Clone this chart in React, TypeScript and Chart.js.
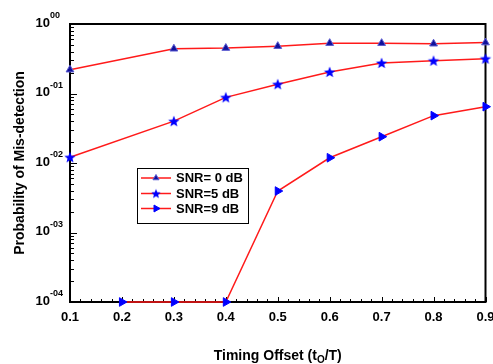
import React, { useEffect, useRef } from "react";
import { Chart, registerables } from "chart.js";
import { drawPoint } from "chart.js/helpers";

Chart.register(...registerables);

const snr0X = [0.1, 0.3, 0.4, 0.5, 0.6, 0.7, 0.8, 0.9];
const snr0Y = [0.22, 0.44, 0.45, 0.48, 0.53, 0.53, 0.52, 0.54];
const snr5X = [0.1, 0.3, 0.4, 0.5, 0.6, 0.7, 0.8, 0.9];
const snr5Y = [0.0121, 0.04, 0.088, 0.136, 0.204, 0.275, 0.296, 0.317];
const snr9X = [0.2, 0.3, 0.4, 0.5, 0.6, 0.7, 0.8, 0.9];
const snr9Y = [0.0001, 0.0001, 0.0001, 0.00395, 0.0119, 0.0239, 0.048, 0.0646];
const seriesLabels = ["SNR= 0 dB", "SNR=5 dB", "SNR=9 dB"];
const yTickValues = [1, 0.1, 0.01, 0.001, 0.0001];
const yTickExps = ["00", "-01", "-02", "-03", "-04"];
const xTitleParts = ["Timing Offset (t", "O", "/T)"];
const yTitle = "Probability of Mis-detection";

const FONT = '"Liberation Sans", Arial, Helvetica, sans-serif';

function makeStar(color: string, outer: number, inner: number) {
  const size = Math.ceil(outer * 2 + 2);
  const c = document.createElement("canvas");
  c.width = size;
  c.height = size;
  const ctx = c.getContext("2d")!;
  ctx.beginPath();
  for (let i = 0; i < 10; i++) {
    const r = i % 2 === 0 ? outer : inner;
    const a = -Math.PI / 2 + (i * Math.PI) / 5;
    ctx.lineTo(size / 2 + r * Math.cos(a), size / 2 + 0.5 + r * Math.sin(a));
  }
  ctx.closePath();
  ctx.fillStyle = color;
  ctx.fill();
  return c;
}

const framePlugin = {
  id: "framePlugin",
  beforeDatasetsDraw(chart: any) {
    const { ctx, chartArea: a, scales } = chart;
    const xs = scales.x;
    const ys = scales.y;
    ctx.save();
    ctx.strokeStyle = "#000";
    ctx.lineWidth = 1;
    const line = (x1: number, y1: number, x2: number, y2: number) => {
      ctx.beginPath();
      ctx.moveTo(x1, y1);
      ctx.lineTo(x2, y2);
      ctx.stroke();
    };
    for (let e = -4; e <= 0; e++) {
      for (let k = 1; k <= 9; k++) {
        const v = k * Math.pow(10, e);
        if (v > 1.0001) break;
        const py = Math.round(ys.getPixelForValue(v)) + 0.5;
        line(a.left, py, a.left + (k === 1 ? 7 : 4), py);
      }
    }
    for (let i = 0; i <= 40; i++) {
      const v = 0.1 + i * 0.02;
      const px = Math.round(xs.getPixelForValue(v)) + 0.5;
      line(px, a.bottom, px, a.bottom - (i % 5 === 0 ? 5 : 3));
    }
    ctx.lineWidth = 2;
    ctx.strokeRect(a.left, a.top, a.right - a.left, a.bottom - a.top);

    // y tick labels 10^xx
    ctx.fillStyle = "#000";
    yTickValues.forEach((v, i) => {
      const py = ys.getPixelForValue(v);
      ctx.font = `bold 13px ${FONT}`;
      ctx.textAlign = "right";
      ctx.textBaseline = "middle";
      ctx.fillText("10", 50, py - 1);
      ctx.font = `bold 9px ${FONT}`;
      ctx.textAlign = "left";
      ctx.fillText(yTickExps[i], 50, py - 8);
    });

    // x title with subscript
    const big = `bold 14px ${FONT}`;
    const small = `bold 10px ${FONT}`;
    ctx.font = big;
    const w1 = ctx.measureText(xTitleParts[0]).width;
    const w3 = ctx.measureText(xTitleParts[2]).width;
    ctx.font = small;
    const w2 = ctx.measureText(xTitleParts[1]).width;
    const total = w1 + w2 + w3;
    let tx = (a.left + a.right) / 2 - total / 2;
    const ty = 356;
    ctx.textAlign = "left";
    ctx.textBaseline = "middle";
    ctx.font = big;
    ctx.fillText(xTitleParts[0], tx, ty);
    tx += w1;
    ctx.font = small;
    ctx.fillText(xTitleParts[1], tx, ty + 4);
    tx += w2;
    ctx.font = big;
    ctx.fillText(xTitleParts[2], tx, ty);
    ctx.restore();
  },
  afterDatasetsDraw(chart: any) {
    const { ctx } = chart;
    ctx.save();
    const bx = 137, by = 168, bw = 111, bh = 55;
    ctx.fillStyle = "#fff";
    ctx.fillRect(bx, by, bw, bh);
    ctx.strokeStyle = "#000";
    ctx.lineWidth = 1;
    ctx.strokeRect(bx + 0.5, by + 0.5, bw, bh);
    const rows = [178, 193.5, 208.5];
    chart.data.datasets.forEach((ds: any, i: number) => {
      const ry = rows[i];
      ctx.strokeStyle = ds.borderColor;
      ctx.lineWidth = 1.5;
      ctx.beginPath();
      ctx.moveTo(141, ry);
      ctx.lineTo(171, ry);
      ctx.stroke();
      ctx.fillStyle = ds.pointBackgroundColor;
      ctx.strokeStyle = ds.pointBorderColor;
      ctx.lineWidth = 1;
      const style = ds.legendStyle;
      drawPoint(
        ctx,
        {
          pointStyle: style,
          rotation: ds.pointRotation || 0,
          radius: ds.legendRadius,
          borderWidth: 1,
        } as any,
        156,
        ry
      );
      ctx.fillStyle = "#000";
      ctx.font = `bold 13px ${FONT}`;
      ctx.textAlign = "left";
      ctx.textBaseline = "middle";
      ctx.fillText(ds.label, 176, ry + 0.5);
    });
    ctx.restore();
  },
};

export default function App() {
  const ref = useRef<HTMLCanvasElement | null>(null);
  useEffect(() => {
    if (!ref.current) return;
    const star = makeStar("#0000ff", 6, 2.6);
    const starSmall = makeStar("#0000ff", 5, 2.2);
    const chart = new Chart(ref.current, {
      type: "line",
      data: {
        datasets: [
          {
            label: seriesLabels[0],
            data: snr0X.map((x, i) => ({ x, y: snr0Y[i] })),
            borderColor: "#ff1a1a",
            borderWidth: 1.5,
            pointStyle: "triangle",
            pointRadius: 4.5,
            pointBackgroundColor: "#10109a",
            pointBorderColor: "#5a5ad0",
            pointBorderWidth: 1,
            clip: false,
            legendStyle: "triangle",
            legendRadius: 3.5,
          } as any,
          {
            label: seriesLabels[1],
            data: snr5X.map((x, i) => ({ x, y: snr5Y[i] })),
            borderColor: "#ff1a1a",
            borderWidth: 1.5,
            pointStyle: star,
            pointRadius: 6,
            pointBackgroundColor: "#0000ff",
            pointBorderColor: "#0000ff",
            clip: false,
            legendStyle: starSmall,
            legendRadius: 5,
          } as any,
          {
            label: seriesLabels[2],
            data: snr9X.map((x, i) => ({ x, y: snr9Y[i] })),
            borderColor: "#ff1a1a",
            borderWidth: 1.5,
            pointStyle: "triangle",
            pointRotation: 90,
            pointRadius: 5,
            pointBackgroundColor: "#0000ff",
            pointBorderColor: "#0000ff",
            pointBorderWidth: 1,
            clip: false,
            legendStyle: "triangle",
            legendRadius: 4,
          } as any,
        ],
      },
      options: {
        responsive: false,
        animation: false,
        layout: { padding: { top: 24, right: 7, left: 0, bottom: 0 } },
        plugins: { legend: { display: false }, tooltip: { enabled: false } },
        scales: {
          x: {
            type: "linear",
            min: 0.1,
            max: 0.9,
            grid: { display: false, drawTicks: false },
            border: { display: false },
            ticks: {
              stepSize: 0.1,
              padding: 8,
              color: "#000",
              font: { family: FONT, size: 13, weight: "bold" },
              callback: (v: any) => Number(v).toFixed(1),
              maxRotation: 0,
            },
            afterFit: (s: any) => {
              s.height = 62;
              s.paddingLeft = 0;
              s.paddingRight = 0;
            },
          },
          y: {
            type: "logarithmic",
            min: 0.0001,
            max: 1,
            grid: { display: false },
            border: { display: false },
            ticks: { display: false },
            title: {
              display: true,
              text: yTitle,
              color: "#000",
              font: { family: FONT, size: 14, weight: "bold" },
              padding: { top: 12, bottom: 0 },
            },
            afterFit: (s: any) => {
              s.width = 70;
              s.paddingTop = 0;
              s.paddingBottom = 0;
            },
          },
        },
      } as any,
      plugins: [framePlugin],
    });
    return () => chart.destroy();
  }, []);
  return (
    <div style={{ position: "absolute", left: 0, top: 0, width: 493, height: 364, background: "#fff" }}>
      <canvas ref={ref} width={493} height={364} style={{ display: "block" }} />
    </div>
  );
}
